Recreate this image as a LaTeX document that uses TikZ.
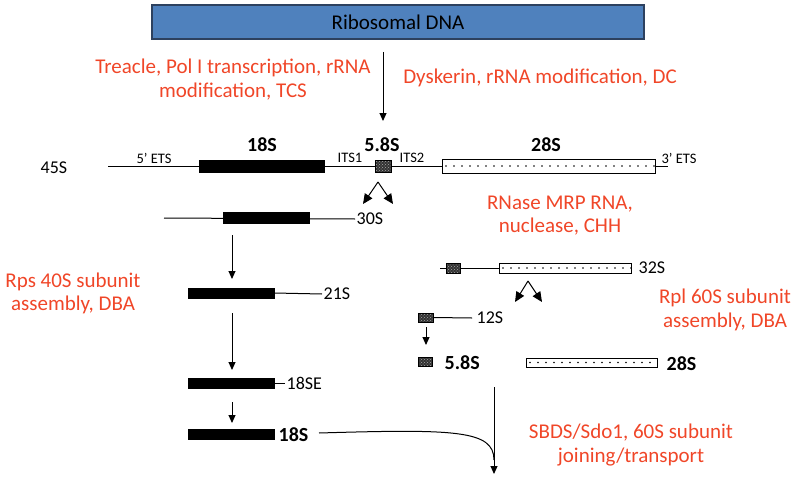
\documentclass[tikz,border=0pt]{standalone}
\usepackage{fontspec}
\setmainfont{Carlito}
\usetikzlibrary{arrows.meta,patterns,backgrounds}
\definecolor{redtxt}{RGB}{240,70,40}
\definecolor{dnablue}{RGB}{79,129,189}
\definecolor{dnaedge}{RGB}{45,65,95}
\begin{document}
\begin{tikzpicture}[x=1pt,y=-1pt,
  redlbl/.style={text=redtxt, font=\fontsize{21}{23.5}\selectfont, align=center, inner sep=0pt},
  lbl/.style={font=\fontsize{18}{20}\selectfont, inner sep=1.5pt},
  small/.style={font=\fontsize{14.5}{16}\selectfont, inner sep=0pt},
  blbl/.style={font=\bfseries\fontsize{20}{22}\selectfont, inner sep=1.5pt},
  dnabox/.style={draw=dnaedge, fill=dnablue, line width=1.2pt, font=\fontsize{21}{24}\selectfont, inner sep=0pt},
  bar/.style={fill=black, draw=black, line width=0.5pt, inner sep=0pt, minimum height=10},
  box58/.style={draw=black, line width=0.5pt, preaction={fill=black!80}, pattern=crosshatch dots, pattern color=black!35, inner sep=0pt},
  box28/.style={draw=black, line width=0.7pt, fill=white, inner sep=0pt,
    path picture={\draw[line width=1.9pt, dash pattern=on 0pt off 8pt, line cap=round, black]
      ([xshift=4pt]path picture bounding box.west) -- (path picture bounding box.east);}},
  arr/.style={-{Triangle[length=8pt,width=7pt]}, line width=1pt},
  splitarr/.style={-{Triangle[length=10pt,width=9pt]}, line width=1pt},
  ln/.style={line width=1pt}]
\useasboundingbox (0,0) rectangle (800,487);

% top
\node[dnabox, minimum width=492, minimum height=34] (dna) at (398,22) {Ribosomal DNA};
\coordinate (t0) at (383,52);
\coordinate (t1) at (383,121);
\draw[arr] (t0) -- (t1);
\node[redlbl] (treacle) at (233,79.5) {Treacle, Pol I transcription, rRNA\\modification, TCS};
\node[redlbl] (dysk) at (540,78) {Dyskerin, rRNA modification, DC};

% titles
\node[blbl] (t18) at (262,145) {18S};
\node[blbl] (t58) at (382,145) {5.8S};
\node[blbl] (t28) at (546,145) {28S};

% 45S
\node[lbl] (l45) at (54,168) {45S};
\coordinate (s45) at (108,166);
\coordinate (e45) at (668,166);
\node[bar, minimum width=125, minimum height=12] (b18) at (261.5,166.5) {};
\node[box58, minimum width=16, minimum height=12] (c58) at (383,166.5) {};
\node[box28, minimum width=213, minimum height=14] (d28) at (548.5,166) {};
\node[small] (ets5) at (154,158) {5’ ETS};
\node[small] (its1) at (350,158) {ITS1};
\node[small] (its2) at (412,158) {ITS2};
\node[small] (ets3) at (679,158) {3’ ETS};
\begin{scope}[on background layer]
\draw[ln] (s45) -- (e45);
\end{scope}

% split 1
\coordinate (sp1) at (378,182);
\coordinate (sp1l) at (363,204);
\coordinate (sp1r) at (393,204);
\draw[splitarr] (sp1) -- (sp1l);
\draw[splitarr] (sp1) -- (sp1r);

% 30S
\coordinate (s30) at (164,218);
\node[bar, minimum width=86, minimum height=11] (b30) at (266,217.5) {};
\node[lbl, anchor=west] (l30) at (355,219) {30S};
\begin{scope}[on background layer]
\draw[ln] (s30) -- (l30.west);
\end{scope}
\coordinate (a1) at (232,235);
\coordinate (a2) at (232,279);
\draw[arr] (a1) -- (a2);

% 21S
\node[bar, minimum width=86, minimum height=10] (b21) at (231,293) {};
\node[lbl, anchor=west] (l21) at (322,294) {21S};
\draw[ln] (b21.east) -- (l21.west);
\coordinate (a3) at (232,313);
\coordinate (a4) at (232,370);
\draw[arr] (a3) -- (a4);

% 18SE
\node[bar, minimum width=86, minimum height=10] (b18e) at (231,383) {};
\node[lbl, anchor=west] (l18e) at (285,383) {18SE};
\draw[ln] (b18e.east) -- (l18e.west);
\coordinate (a5) at (232,402);
\coordinate (a6) at (232,423);
\draw[arr] (a5) -- (a6);

% 18S
\node[bar, minimum width=86, minimum height=10] (b18f) at (231,434) {};
\node[blbl, anchor=west] (l18f) at (277,435) {18S};
\coordinate (cv0) at (319,433);
\coordinate (cv1) at (494,460);
\draw[ln] (cv0) .. controls (455,429) and (494,430) .. (cv1);
\coordinate (v0) at (494,387);
\coordinate (v1) at (494,474);
\draw[arr] (v0) -- (v1);

% 32S
\coordinate (s32) at (440,268);
\node[box58, minimum width=14, minimum height=10] (c32) at (453,268) {};
\node[box28, minimum width=132, minimum height=10] (d32) at (565,268) {};
\node[lbl, anchor=west] (l32) at (637,268) {32S};
\begin{scope}[on background layer]
\draw[ln] (s32) -- (d32.west);
\end{scope}

% split 2
\coordinate (sp2) at (528,281);
\coordinate (sp2l) at (515,302);
\coordinate (sp2r) at (542,302);
\draw[splitarr] (sp2) -- (sp2l);
\draw[splitarr] (sp2) -- (sp2r);

% 12S
\node[box58, minimum width=15, minimum height=9] (c12) at (425.5,317.5) {};
\coordinate (e12) at (472,318);
\node[lbl, anchor=west] (l12) at (475,318) {12S};
\draw[ln] (c12.east) -- (e12);
\coordinate (a7) at (426,327);
\coordinate (a8) at (426,345);
\draw[arr] (a7) -- (a8);

% final 5.8S and 28S
\node[box58, minimum width=14, minimum height=9] (c58f) at (425.5,362) {};
\node[blbl, anchor=west] (l58f) at (443,363) {5.8S};
\node[box28, minimum width=131, minimum height=9] (d28f) at (591.5,362.5) {};
\node[blbl, anchor=west] (l28f) at (665,364) {28S};

% red annotations
\node[redlbl] (rps) at (73,293.5) {Rps 40S subunit\\assembly, DBA};
\node[redlbl] (rpl) at (725,310) {Rpl 60S subunit\\assembly, DBA};
\node[redlbl] (rnase) at (560,215.5) {RNase MRP RNA,\\nuclease, CHH};
\node[redlbl] (sbds) at (631,445) {SBDS/Sdo1, 60S subunit\\joining/transport};
\end{tikzpicture}
\end{document}
